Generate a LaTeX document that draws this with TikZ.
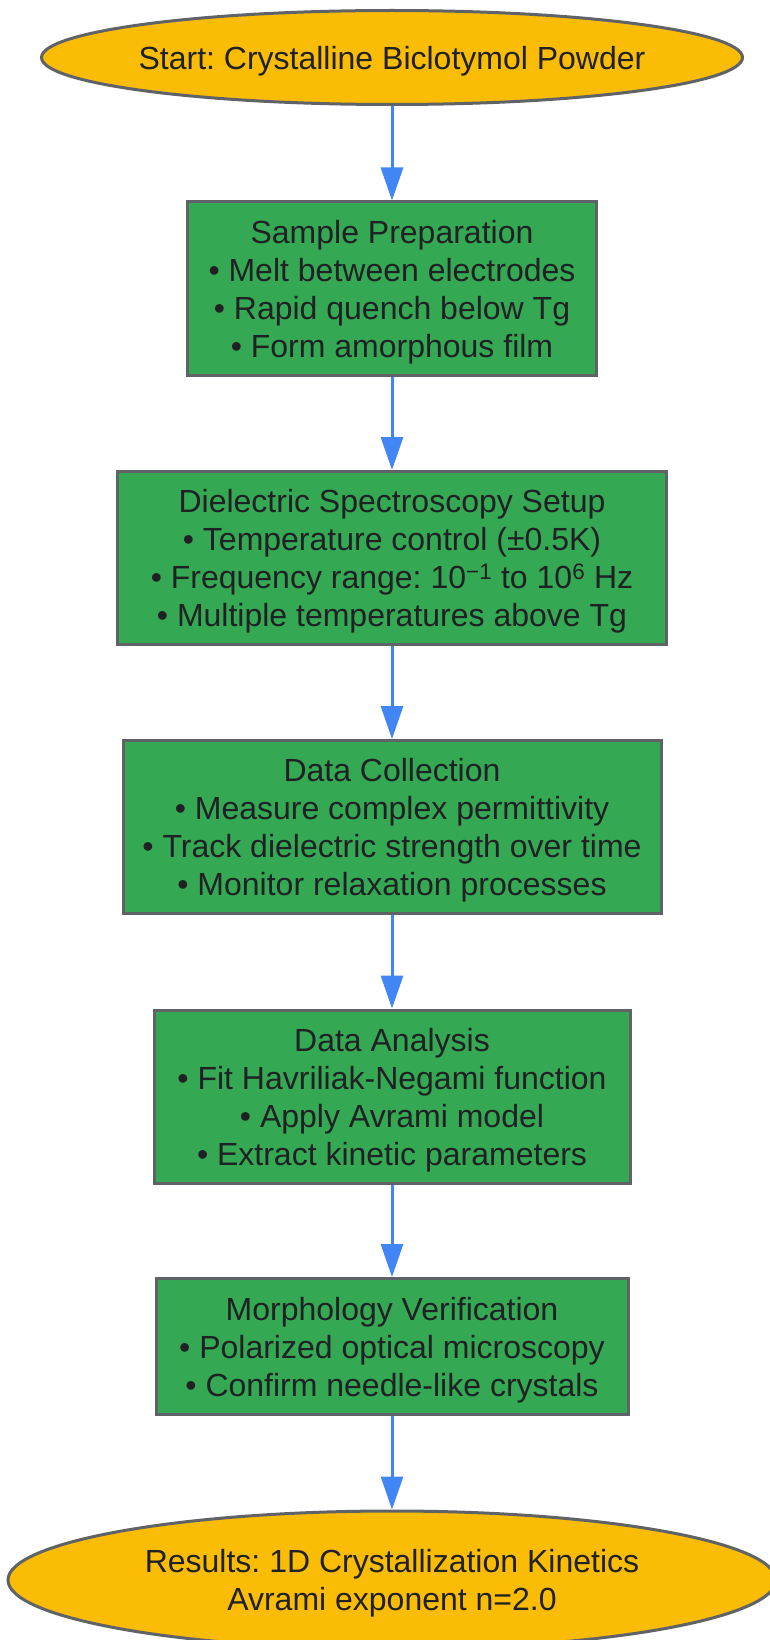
\documentclass[tikz,border=0pt]{standalone}
\usepackage{fontspec}
\setmainfont{Liberation Sans}
\usetikzlibrary{shapes.geometric,arrows.meta}
\definecolor{startyellow}{HTML}{FBBC05}
\definecolor{stagegreen}{HTML}{34A853}
\definecolor{edgegray}{HTML}{5F6368}
\definecolor{flowblue}{HTML}{4285F4}
\definecolor{inkdark}{HTML}{202124}
\frenchspacing
\tikzstyle{terminal} = [ellipse,draw=edgegray,fill=startyellow,line width=3pt,inner sep=0pt,align=center]
\tikzstyle{stage} = [rectangle,draw=edgegray,fill=stagegreen,line width=3pt,inner sep=0pt,minimum height=173pt,align=center]
\tikzstyle{flow} = [draw=flowblue,line width=3pt,-{Triangle[length=33pt,width=22pt]}]
\tikzstyle{every node}=[font=\fontsize{32}{38}\selectfont,text=inkdark,text depth=0pt]
\begin{document}
\begin{tikzpicture}[x=1pt,y=-1pt]
    \useasboundingbox (0,0) rectangle (769,1640);
	\node[terminal,inner xsep=-12pt,minimum width=701pt,minimum height=94pt] (start) at (392,57.5) {Start: Crystalline Biclotymol Powder};
	\node[stage,minimum width=409pt] (prep) at (392,288.5) {Sample Preparation\\ • Melt between electrodes\\ • Rapid quench below Tg\\ • Form amorphous film};
	\node[stage,minimum width=549pt] (setup) at (392,558) {Dielectric Spectroscopy Setup\\ • Temperature control (±0.5K)\\ • Frequency range: 10\textsuperscript{−1} to 10\textsuperscript{6} Hz\\ • Multiple temperatures above Tg};
	\node[stage,minimum width=538pt] (collect) at (392,827) {Data Collection\\ • Measure complex permittivity\\ • Track dielectric strength over time\\ • Monitor relaxation processes};
	\node[stage,minimum width=476pt] (analysis) at (392,1096.5) {Data Analysis\\ • Fit Havriliak-Negami function\\ • Apply Avrami model\\ • Extract kinetic parameters};
	\node[stage,minimum width=472pt,minimum height=136pt] (morph) at (392,1346.5) {Morphology Verification\\ • Polarized optical microscopy\\ • Confirm needle-like crystals};
	\node[terminal,minimum width=768pt,minimum height=138pt] (results) at (392,1580) {Results: 1D Crystallization Kinetics\\ Avrami exponent n=2.0};
	\draw[flow] (start) -- (prep);
	\draw[flow] (prep) -- (setup);
	\draw[flow] (setup) -- (collect);
	\draw[flow] (collect) -- (analysis);
	\draw[flow] (analysis) -- (morph);
	\draw[flow] (morph) -- (results);
\end{tikzpicture}
\end{document}
